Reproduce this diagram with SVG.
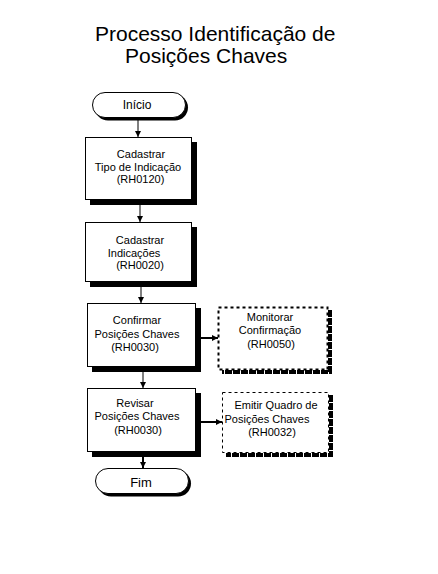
<svg xmlns="http://www.w3.org/2000/svg" width="438" height="574" viewBox="0 0 438 574">
<defs>
<marker id="ah" viewBox="0 0 6 6" refX="6" refY="3" markerWidth="6" markerHeight="6" markerUnits="userSpaceOnUse" orient="auto">
<path d="M0,0 L6,3 L0,6 Z" fill="#000"/>
</marker>
<style>
text{font-family:"Liberation Sans",Arial,sans-serif;fill:#000}
.t{font-size:21px}
.l{font-size:11px;text-anchor:middle}
.box{fill:#fff;stroke:#000;stroke-width:1}
.sh{fill:#000}
.dbox{fill:#fff;stroke:#000;stroke-dasharray:3 3}
.dsh{fill:none;stroke:#000;stroke-width:4;stroke-dasharray:7 1}
.c{stroke:#000;fill:none;stroke-width:1;marker-end:url(#ah)}
.c2{stroke:#000;fill:none;stroke-width:2;marker-end:url(#ah)}
</style>
</defs>
<rect width="438" height="574" fill="#fff"/>
<g id="title">
<text class="t" x="95" y="41">Processo Identificação de</text>
<text class="t" x="125" y="63">Posições Chaves</text>
</g>
<g id="connectors">
<line class="c" x1="138" y1="120" x2="138" y2="137"/>
<line class="c" x1="140" y1="205" x2="140" y2="222"/>
<line class="c" x1="141" y1="287" x2="141" y2="303"/>
<line class="c" x1="143" y1="372" x2="143" y2="388"/>
<line class="c2" x1="143" y1="457" x2="143" y2="468"/>
<line class="c2" x1="201" y1="338" x2="218" y2="338"/>
<line class="c2" x1="201" y1="422" x2="222" y2="422"/>
</g>
<g id="inicio">
<rect class="sh" x="95" y="94.5" width="93" height="26" rx="13"/>
<rect class="box" x="92.5" y="92.5" width="93" height="25" rx="12.5"/>
<text class="l" x="137" y="109" style="font-size:12px">Início</text>
</g>
<g id="n1">
<rect class="sh" x="90" y="142" width="107" height="63"/>
<rect class="box" x="85.5" y="137.5" width="106" height="62"/>
<text class="l" x="141" y="158">Cadastrar</text>
<text class="l" x="138" y="171">Tipo de Indicação</text>
<text class="l" x="140.5" y="183">(RH0120)</text>
</g>
<g id="n2">
<rect class="sh" x="90" y="227" width="107" height="60"/>
<rect class="box" x="85.5" y="222.5" width="106" height="59"/>
<text class="l" x="140" y="244">Cadastrar</text>
<text class="l" x="134" y="257">Indicações</text>
<text class="l" x="140" y="269">(RH0020)</text>
</g>
<g id="n3">
<rect class="sh" x="92" y="308" width="109" height="64"/>
<rect class="box" x="87.5" y="303.5" width="108" height="63"/>
<text class="l" x="137" y="324">Confirmar</text>
<text class="l" x="137" y="338">Posições Chaves</text>
<text class="l" x="135" y="351">(RH0030)</text>
</g>
<g id="n4">
<rect class="sh" x="92" y="393" width="109" height="64"/>
<rect class="box" x="87.5" y="388.5" width="108" height="63"/>
<text class="l" x="135" y="407">Revisar</text>
<text class="l" x="137" y="420">Posições Chaves</text>
<text class="l" x="138" y="434">(RH0030)</text>
</g>
<g id="n5">
<path class="dsh" d="M330,310 V372 H222"/>
<rect class="dbox" x="218.5" y="307.5" width="109" height="62" style="stroke-width:2"/>
<text class="l" x="270" y="321">Monitorar</text>
<text class="l" x="270" y="334">Confirmação</text>
<text class="l" x="271" y="348">(RH0050)</text>
</g>
<g id="n6">
<path class="dsh" d="M331,395 V455 H226"/>
<rect class="dbox" x="222.5" y="392.5" width="106" height="60"/>
<text class="l" x="276" y="409">Emitir Quadro de</text>
<text class="l" x="267" y="423">Posições Chaves</text>
<text class="l" x="272" y="436">(RH0032)</text>
</g>
<g id="fim">
<rect class="sh" x="98" y="470.5" width="93" height="26" rx="13"/>
<rect class="box" x="95.5" y="468.5" width="93" height="25" rx="12.5"/>
<text class="l" x="141" y="487" style="font-size:13px">Fim</text>
</g>
</svg>
